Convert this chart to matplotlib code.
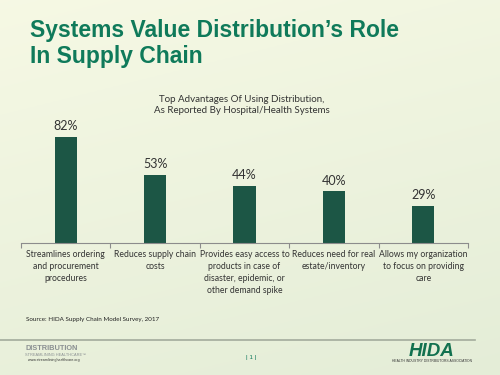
import numpy as np
import matplotlib
matplotlib.use("Agg")
import matplotlib.pyplot as plt

# data from the slide
categories = [
    "Streamlines ordering\nand procurement\nprocedures",
    "Reduces supply chain\ncosts",
    "Provides easy access to\nproducts in case of\ndisaster, epidemic, or\nother demand spike",
    "Reduces need for real\nestate/inventory",
    "Allows my organization\nto focus on providing\ncare",
]
values = [82, 53, 44, 40, 29]

title_lines = ["Systems Value Distribution\u2019s Role", "In Supply Chain"]
chart_title = "Top Advantages Of Using Distribution,\nAs Reported By Hospital/Health Systems"
source = "Source: HIDA Supply Chain Model Survey, 2017"

W, H = 500, 375
fig = plt.figure(figsize=(5, 3.75), dpi=100)

# background gradient
bg = fig.add_axes([0, 0, 1, 1])
yy = np.linspace(0, 1, 200)[:, None]
xx = np.linspace(0, 1, 200)[None, :]
top = np.array([0.965, 0.975, 0.895])
bot = np.array([0.895, 0.93, 0.845])
t = np.clip(0.75 * yy + 0.25 * xx, 0, 1)[..., None]
img = top * (1 - t) + bot * t
bg.imshow(img, aspect="auto", extent=[0, 1, 0, 1], origin="upper")
bg.set_xlim(0, 1)
bg.set_ylim(0, 1)
bg.axis("off")

def fx(px):
    return px / W

def fy(py):
    return 1 - py / H

# slide title
green = "#0f7a5a"
fig.text(fx(30), fy(37), title_lines[0], color=green, fontsize=16.5, fontweight="bold",
         family="Liberation Sans", ha="left", va="baseline")
fig.text(fx(30), fy(63), title_lines[1], color=green, fontsize=16.5, fontweight="bold",
         family="Liberation Sans", ha="left", va="baseline")

# chart
ax = fig.add_axes([fx(21), fy(243), fx(468) - fx(21), (243 - 114) / H])
ax.patch.set_alpha(0)
x = np.arange(len(values))
bars = ax.bar(x, values, width=0.25, color="#1c5645")
ax.set_xlim(-0.5, len(values) - 0.5)
ax.set_ylim(0, 100)
for s in ["top", "right", "left"]:
    ax.spines[s].set_visible(False)
ax.spines["bottom"].set_color("#8c8c8c")
ax.spines["bottom"].set_linewidth(0.8)
ax.set_yticks([])
ax.set_xticks(np.arange(len(values) + 1) - 0.5)
ax.set_xticklabels([])
ax.tick_params(axis="x", length=3.5, color="#8c8c8c", width=0.8)
for xi, v in zip(x, values):
    ax.annotate(f"{v}%", (xi, v), xytext=(0, 3.5), textcoords="offset points",
                ha="center", va="bottom", fontsize=9, color="#333333", family="Lato")
for xi, lab in zip(x, categories):
    ax.annotate(lab, (xi, 0), xytext=(0, -5), textcoords="offset points",
                ha="center", va="top", fontsize=6.2, color="#333333", family="Lato",
                linespacing=1.45)

fig.text(fx(242), fy(105), chart_title, ha="center", va="center", fontsize=7.0,
         color="#333333", family="Lato", linespacing=1.25)

fig.text(fx(26), fy(319), source, ha="left", va="center", fontsize=4.5,
         color="#222222", family="Lato")

# footer
bg.plot([0, fx(475)], [fy(340), fy(340)], color="#a3ab9c", lw=1.2)
fig.text(fx(25), fy(349), "DISTRIBUTION", fontsize=5.3, fontweight="bold", color="#8a8f92",
         family="Liberation Sans", ha="left", va="center")
fig.text(fx(25), fy(354.5), "STREAMLINING HEALTHCARE\u2122", fontsize=2.8, color="#8a8f92",
         family="Liberation Sans", ha="left", va="center")
fig.text(fx(28), fy(360.5), "www.streamlininghealthcare.org", fontsize=2.6, color="#333333",
         family="Liberation Sans", ha="left", va="center")
fig.text(fx(251), fy(358), "| 1 |", fontsize=4.5, color=green, family="Liberation Sans",
         ha="center", va="center")
fig.text(fx(432), fy(351), "HIDA", fontsize=13.5, fontweight="bold", style="italic",
         color="#12714f", family="Liberation Sans", ha="center", va="center")
fig.text(fx(432), fy(361), "HEALTH INDUSTRY DISTRIBUTORS ASSOCIATION", fontsize=2.4,
         color="#333333", family="Liberation Sans", ha="center", va="center")

fig.savefig("out.png", dpi=100)
